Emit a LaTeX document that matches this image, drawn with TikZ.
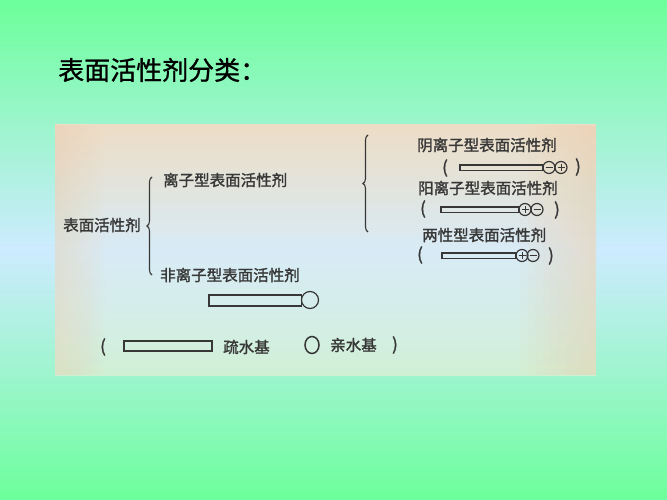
\documentclass[tikz,border=0pt]{standalone}
\usepackage{fontspec}
\newfontfamily\cjkt[FakeBold=1]{Noto Sans CJK SC}
\newfontfamily\cjkb[FakeBold=1.6]{Noto Sans CJK SC}
\usetikzlibrary{decorations.pathreplacing}
\definecolor{bgG}{RGB}{108,255,155}
\definecolor{bgB}{RGB}{205,235,255}
\definecolor{beige}{RGB}{240,212,180}
\definecolor{scT}{RGB}{237,221,198}
\definecolor{scU}{RGB}{226,228,222}
\definecolor{scM}{RGB}{216,235,246}
\definecolor{scL}{RGB}{212,238,230}
\definecolor{scB}{RGB}{208,240,212}
\definecolor{ink}{RGB}{55,55,55}
\pgfdeclareverticalshading{scanV}{100bp}{color(0bp)=(scB); color(25bp)=(scB); color(35bp)=(scL); color(50bp)=(scM); color(62bp)=(scU); color(75bp)=(scT); color(100bp)=(scT)}
\begin{document}
\begin{tikzpicture}[x=1pt,y=-1pt,
  lbl/.style={anchor=west,inner sep=0pt,text=ink,font=\cjkb\fontsize{15.5}{15.5}\selectfont},
  ttl/.style={anchor=west,inner sep=0pt,text=black,font=\cjkt\fontsize{26}{26}\selectfont},
  par/.style={inner sep=0pt,text=ink,font=\cjkb\fontsize{17}{17}\selectfont},
  rod/.style={draw=ink,line width=1.2pt},
  head/.style={draw=ink,line width=1.2pt},
  sgn/.style={draw=ink,line width=0.8pt},
  bracestyle/.style={draw=ink,line width=1.1pt,decorate,decoration={brace,amplitude=5pt}}]
% background
\useasboundingbox (0,0) rectangle (667,500);
\shade[top color=bgG,bottom color=bgG,middle color=bgB] (0,0) rectangle (667,500);
% scan area
\shade[shading=scanV] (55,125) rectangle (596,375);
\foreach \i in {0,...,9}{
  \fill[beige,opacity=0.07] (520+\i*7.6,125) rectangle (596,375);
  \fill[beige,opacity=0.05] (55,125) rectangle (105-\i*5,375);
}
% title
\node[ttl] (title) at (58,70) {表面活性剂分类：};
% tree
\node[lbl] (root) at (63,225) {表面活性剂};
\node[lbl] (ionic) at (163,180) {离子型表面活性剂};
\node[lbl] (nonionic) at (160,275) {非离子型表面活性剂};
\node[lbl] (anion) at (417,145) {阴离子型表面活性剂};
\node[lbl] (cation) at (418,188) {阳离子型表面活性剂};
\node[lbl] (amph) at (422,235) {两性型表面活性剂};
\coordinate (b1s) at (152,275);
\coordinate (b1e) at (152,177);
\draw[bracestyle] (b1s) -- (b1e);
\coordinate (b2s) at (368,232);
\coordinate (b2e) at (368,135);
\draw[bracestyle] (b2s) -- (b2e);
% nonionic rod
\draw[rod] (209,295) rectangle (301.5,306);
\draw[head] (310,300) circle (8.5);
% anionic
\node[par] (ap1) at (445,168) {(};
\node[par] (ap2) at (578,167) {)};
\draw[rod] (460,165) rectangle (543,170.5);
\draw[head] (549,167.5) circle (6);
\draw[sgn] (545.5,167.5) -- (552.5,167.5);
\draw[head] (561,167.5) circle (6);
\draw[sgn] (557.5,167.5) -- (564.5,167.5) (561,164) -- (561,171);
% cationic
\node[par] (cp1) at (423,209) {(};
\node[par] (cp2) at (557,210) {)};
\draw[rod] (441,207) rectangle (519,212.5);
\draw[head] (525,209.5) circle (6);
\draw[sgn] (521.5,209.5) -- (528.5,209.5) (525,206) -- (525,213);
\draw[head] (537,209.5) circle (6);
\draw[sgn] (533.5,209.5) -- (540.5,209.5);
% amphoteric
\node[par] (mp1) at (420,255) {(};
\node[par] (mp2) at (551,256) {)};
\draw[rod] (442,253) rectangle (516,258.5);
\draw[head] (522,255.5) circle (6);
\draw[sgn] (518.5,255.5) -- (525.5,255.5) (522,252) -- (522,259);
\draw[head] (533,255.5) circle (6);
\draw[sgn] (529.5,255.5) -- (536.5,255.5);
% legend
\node[par] (lp1) at (103,347) {(};
\draw[rod,line width=1.4pt] (124,341) rectangle (212,351);
\node[lbl] (hydrophobic) at (223,347) {疏水基};
\draw[head,line width=1.5pt] (312,345) ellipse (7 and 8.5);
\node[lbl] (hydrophilic) at (330,345) {亲水基};
\node[par] (lp2) at (395,345) {)};
\end{tikzpicture}
\end{document}
